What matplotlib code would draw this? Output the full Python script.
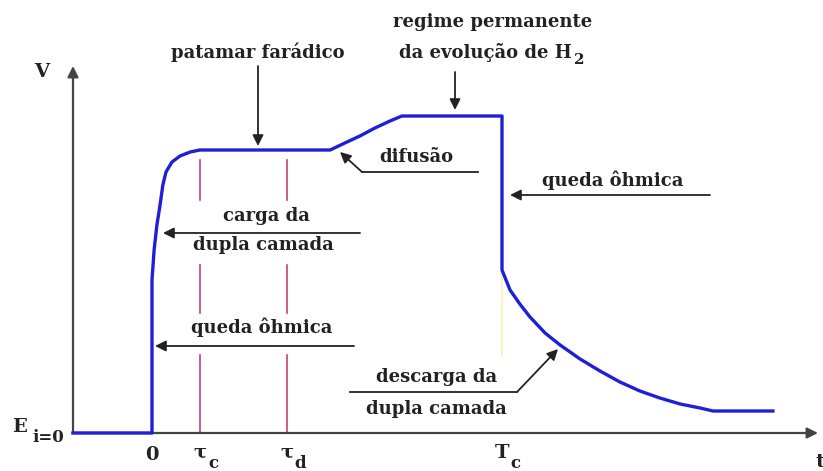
import matplotlib
matplotlib.use("Agg")
import matplotlib.pyplot as plt
from matplotlib.lines import Line2D

# ---- data (arbitrary units: t, V) ----
t_curve = [-2.26, 0.00, 0.00, 0.06, 0.14, 0.23, 0.31, 0.40, 0.57, 0.80, 1.09, 1.37,
           5.09, 5.51, 5.94, 6.37, 6.80, 7.14, 10.00, 10.00, 10.23, 10.51, 10.80,
           11.23, 11.66, 12.23, 12.80, 13.37, 13.94, 14.51, 15.09, 15.66, 16.03, 17.74]
v_curve = [0.00, 0.00, 1.53, 1.83, 2.08, 2.28, 2.48, 2.61, 2.71, 2.77, 2.81, 2.83,
           2.83, 2.90, 2.97, 3.05, 3.12, 3.17, 3.17, 1.63, 1.43, 1.29, 1.16,
           1.00, 0.88, 0.74, 0.62, 0.51, 0.42, 0.35, 0.29, 0.25, 0.22, 0.22]
tau_c = 1.37
tau_d = 3.86
T_c = 10.0
marker_segments = [(2.33, 2.73), (1.20, 1.68), (0.00, 0.78)]
tick_labels = ["0", "\u03c4", "\u03c4", "T"]
tick_subs = ["", "c", "d", "c"]

# ---- figure ----
W, H = 823, 471
fig = plt.figure(figsize=(W / 100, H / 100), dpi=100)
ax = fig.add_axes([0, 0, 1, 1])
ax.set_xlim(-152 / 35, (W - 152) / 35)
ax.set_ylim((433 - H) / 100, 433 / 100)
ax.axis("off")

def P(px, py):
    """layout helper: pixel position -> data position"""
    return ((px - 152) / 35, (433 - py) / 100)

FONT = dict(family="DejaVu Serif", weight="bold", color="#222222")
FS = 13
ARW = dict(arrowstyle="-|>", color="#222222", lw=1.3, mutation_scale=16,
           shrinkA=0, shrinkB=0)

# axes with arrows
x0, y0 = P(73, 433)
ax.annotate("", xy=P(818, 433), xytext=(x0, y0),
            arrowprops=dict(ARW, color="#444444", lw=1.6))
ax.annotate("", xy=P(73, 66), xytext=(x0, y0),
            arrowprops=dict(ARW, color="#444444", lw=1.6))

# Tc faint line
ax.plot([T_c, T_c], [v_curve[19], P(0, 355)[1]], color="#fbf3b0", lw=1.2, zorder=1)

# pink markers
for tt in (tau_c, tau_d):
    for a, b in marker_segments:
        ax.plot([tt, tt], [a, b], color="#cc3d7a", lw=1.2, zorder=2)

# curve
ax.plot(t_curve, v_curve, color="#1f1fd6", lw=2.4, solid_joinstyle="round", zorder=3)

# axis labels
ax.text(*P(42, 72), "V", ha="center", va="center", fontsize=FS + 1, **FONT)
ax.text(*P(20, 427), "E", ha="center", va="center", fontsize=FS + 1, **FONT)
ax.text(*P(48, 438), "i=0", ha="center", va="center", fontsize=FS - 1, **FONT)
ax.text(*P(820, 462), "t", ha="center", va="center", fontsize=FS + 1, **FONT)

tick_pos = [0.0, tau_c, tau_d, T_c]
for tp, lab, sub in zip(tick_pos, tick_labels, tick_subs):
    yl = P(0, 453)[1]
    if sub:
        ax.text(tp, yl, lab, ha="center", va="center", fontsize=FS + 1, **FONT)
        ax.text(tp + 0.38, P(0, 463)[1], sub, ha="center", va="center",
                fontsize=FS - 1, **FONT)
    else:
        ax.text(tp, P(0, 455)[1], lab, ha="center", va="center", fontsize=FS + 1, **FONT)

# annotations
ax.text(*P(258, 52), "patamar farádico", ha="center", va="center", fontsize=FS, **FONT)
ax.annotate("", xy=P(258, 146), xytext=P(258, 66), arrowprops=ARW)

ax.text(*P(493, 22), "regime permanente", ha="center", va="center", fontsize=FS, **FONT)
ax.text(*P(572, 52), "da evolução de H", ha="right", va="center", fontsize=FS, **FONT)
ax.text(*P(579, 60), "2", ha="center", va="center", fontsize=FS - 2, **FONT)
ax.annotate("", xy=P(455, 110), xytext=P(455, 72), arrowprops=ARW)

ax.text(*P(416, 157), "difusão", ha="center", va="center", fontsize=FS, **FONT)
ax.add_line(Line2D(*zip(P(478, 172), P(362, 172)), color="#222222", lw=1.3))
ax.annotate("", xy=P(340, 152), xytext=P(362, 172), arrowprops=ARW)

ax.text(*P(613, 180), "queda ôhmica", ha="center", va="center", fontsize=FS, **FONT)
ax.annotate("", xy=P(510, 195), xytext=P(710, 195), arrowprops=ARW)

ax.text(*P(266, 216), "carga da", ha="center", va="center", fontsize=FS, **FONT)
ax.text(*P(263, 245), "dupla camada", ha="center", va="center", fontsize=FS, **FONT)
ax.annotate("", xy=P(163, 233), xytext=P(360, 233), arrowprops=ARW)

ax.text(*P(262, 327), "queda ôhmica", ha="center", va="center", fontsize=FS, **FONT)
ax.annotate("", xy=P(155, 346), xytext=P(354, 346), arrowprops=ARW)

ax.text(*P(437, 377), "descarga da", ha="center", va="center", fontsize=FS, **FONT)
ax.text(*P(436, 409), "dupla camada", ha="center", va="center", fontsize=FS, **FONT)
ax.add_line(Line2D(*zip(P(350, 392), P(517, 392)), color="#222222", lw=1.3))
ax.annotate("", xy=P(558, 349), xytext=P(517, 392), arrowprops=ARW)

fig.savefig("out.png", dpi=100, facecolor="white")
